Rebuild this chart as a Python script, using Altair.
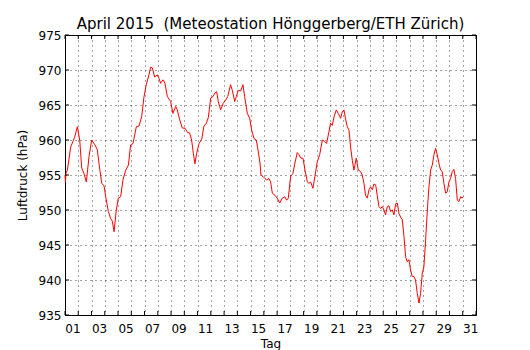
import altair as alt
import pandas as pd

# time in days since 1 April 2015 00:00, air pressure in hPa
days = [0.00, 0.03, 0.08, 0.18, 0.43, 0.60, 0.73, 0.93, 1.11, 1.26, 1.43, 1.61, 1.81, 2.01, 2.26, 2.44,
        2.56, 2.77, 2.94, 3.07, 3.27, 3.44, 3.57, 3.70, 3.87, 4.02, 4.20, 4.37, 4.58, 4.78, 4.95, 5.13,
        5.38, 5.58, 5.78, 5.96, 6.13, 6.33, 6.46, 6.59, 6.76, 6.96, 7.09, 7.21, 7.39, 7.54, 7.72, 7.97,
        8.14, 8.35, 8.47, 8.65, 8.85, 9.05, 9.23, 9.40, 9.55, 9.68, 9.80, 9.93, 10.11, 10.31, 10.48,
        10.66, 10.81, 10.99, 11.16, 11.31, 11.44, 11.56, 11.74, 11.92, 12.12, 12.27, 12.49, 12.62,
        12.80, 12.92, 13.07, 13.25, 13.42, 13.55, 13.75, 13.93, 14.08, 14.26, 14.43, 14.58, 14.71,
        14.78, 14.93, 15.08, 15.21, 15.38, 15.51, 15.64, 15.84, 16.01, 16.19, 16.39, 16.57, 16.72,
        16.84, 17.02, 17.19, 17.34, 17.52, 17.65, 17.80, 17.95, 18.10, 18.28, 18.40, 18.53, 18.70,
        18.85, 19.03, 19.21, 19.41, 19.58, 19.73, 19.91, 20.03, 20.16, 20.29, 20.46, 20.61, 20.79,
        20.91, 21.04, 21.17, 21.29, 21.42, 21.54, 21.67, 21.79, 21.97, 22.12, 22.30, 22.42, 22.55,
        22.67, 22.80, 22.93, 23.05, 23.18, 23.30, 23.43, 23.55, 23.68, 23.81, 23.93, 24.06, 24.18,
        24.31, 24.43, 24.56, 24.69, 24.81, 24.94, 25.06, 25.19, 25.31, 25.44, 25.57, 25.69, 25.82,
        25.94, 26.07, 26.19, 26.32, 26.44, 26.57, 26.70, 26.82, 26.95, 27.07, 27.20, 27.33, 27.45,
        27.58, 27.70, 27.83, 27.95, 28.08, 28.20, 28.33, 28.45, 28.58, 28.71, 28.83, 28.96, 29.08,
        29.21, 29.33, 29.46, 29.59, 29.71, 29.84, 29.96, 30.04]
pressure = [955.0, 954.0, 955.3, 955.7, 959.0, 959.8, 960.4, 961.9, 960.0, 956.0, 955.2, 954.0, 957.6,
            960.0, 959.3, 958.6, 956.7, 953.8, 953.5, 951.9, 949.8, 948.8, 948.4, 946.9, 950.0, 951.7,
            951.9, 954.3, 955.7, 956.4, 959.3, 959.5, 961.9, 962.0, 963.3, 966.2, 967.9, 969.3, 970.4,
            970.3, 969.0, 969.3, 968.8, 968.1, 968.6, 968.1, 966.2, 965.5, 963.8, 964.8, 964.3, 962.9,
            961.7, 961.7, 961.1, 961.0, 960.0, 958.1, 956.6, 958.1, 959.5, 960.1, 962.0, 962.4, 963.2,
            966.0, 966.2, 966.7, 966.9, 965.5, 964.3, 965.2, 965.7, 966.2, 967.9, 967.1, 965.5, 966.2,
            967.1, 967.0, 967.9, 966.2, 963.8, 963.1, 961.4, 960.2, 960.0, 958.3, 956.7, 955.0, 954.8,
            954.5, 954.3, 954.5, 954.0, 952.4, 952.1, 951.7, 951.0, 951.7, 951.9, 951.4, 951.7, 954.8,
            955.2, 956.7, 958.2, 957.9, 957.4, 957.4, 955.7, 954.0, 953.8, 954.0, 953.1, 954.8, 956.9,
            957.9, 960.0, 959.8, 959.5, 961.2, 962.4, 962.1, 963.3, 964.3, 963.8, 963.1, 964.0, 964.3,
            962.9, 961.9, 961.4, 959.0, 957.1, 955.7, 957.4, 955.7, 955.5, 955.0, 953.8, 952.1, 951.7,
            952.9, 953.3, 952.9, 953.7, 953.6, 952.1, 950.5, 950.2, 950.5, 950.0, 949.3, 950.5, 950.6,
            949.8, 950.0, 949.3, 950.9, 951.0, 949.5, 949.0, 948.6, 946.2, 943.3, 942.6, 942.9, 941.4,
            940.5, 940.5, 940.0, 938.1, 936.7, 938.1, 941.0, 941.9, 945.7, 950.0, 953.3, 955.7, 956.4,
            957.9, 958.8, 957.9, 956.7, 955.7, 955.5, 953.8, 952.4, 952.6, 954.0, 954.5, 955.5, 955.8,
            954.5, 951.4, 951.2, 951.9, 951.7, 951.9]

day_ticks = list(range(0, 32))
p_ticks = [935, 940, 945, 950, 955, 960, 965, 970, 975]

W, H = 411, 280
df = pd.DataFrame({"t": days, "p": pressure})
xt = pd.DataFrame({"t": day_ticks})
yt = pd.DataFrame({"p": p_ticks})

xscale = alt.Scale(domain=[0, 31], nice=False, zero=False)
yscale = alt.Scale(domain=[935, 975], nice=False, zero=False)

label_expr = ("datum.value % 2 == 0 && datum.value < 31 ? "
              "(datum.value < 9 ? '0' : '') + (datum.value + 1) : ''")

xaxis = alt.Axis(values=day_ticks, labelExpr=label_expr, labelOffset=7.5,
                 labelFlush=False, labelOverlap=False, ticks=False, domain=False,
                 grid=True, gridColor="black", gridDash=[1, 4], gridWidth=0.8,
                 labelPadding=8, titlePadding=4)
yaxis = alt.Axis(values=p_ticks, ticks=False, domain=False, grid=True,
                 labelOverlap=False, labelFlush=False,
                 gridColor="black", gridDash=[1, 4], gridWidth=0.8,
                 labelPadding=4, titlePadding=9)

X = alt.X("t:Q", scale=xscale, title="Tag", axis=xaxis)
Y = alt.Y("p:Q", scale=yscale, title="Luftdruck (hPa)", axis=yaxis)

line = alt.Chart(df).mark_line(color="#ff0000", strokeWidth=1).encode(x=X, y=Y)

xb = alt.Chart(xt).mark_rule(color="black", strokeWidth=1).encode(
    x=X, y=alt.value(H), y2=alt.value(H - 4))
xtop = alt.Chart(xt).mark_rule(color="black", strokeWidth=1).encode(
    x=X, y=alt.value(0), y2=alt.value(4))
yl = alt.Chart(yt).mark_rule(color="black", strokeWidth=1).encode(
    y=Y, x=alt.value(0), x2=alt.value(4))
yr = alt.Chart(yt).mark_rule(color="black", strokeWidth=1).encode(
    y=Y, x=alt.value(W), x2=alt.value(W - 4))

chart = alt.layer(line, xb, xtop, yl, yr).properties(
    width=W, height=H,
    title=alt.Title("April 2015 \u00a0(Meteostation Hönggerberg/ETH Zürich)",
                    fontSize=15, fontWeight="normal", font="DejaVu Sans",
                    color="black", offset=-3),
    padding={"left": 8, "top": 9, "right": 5, "bottom": 2},
).configure(font="DejaVu Sans").configure_view(
    stroke="black", strokeWidth=1
).configure_axis(
    labelFont="DejaVu Sans", labelFontSize=12, labelColor="black",
    titleFont="DejaVu Sans", titleFontSize=12, titleFontWeight="normal", titleColor="black",
    gridOpacity=0.9
)

chart.save("out.html", embed_options={"renderer": "svg", "actions": False})
